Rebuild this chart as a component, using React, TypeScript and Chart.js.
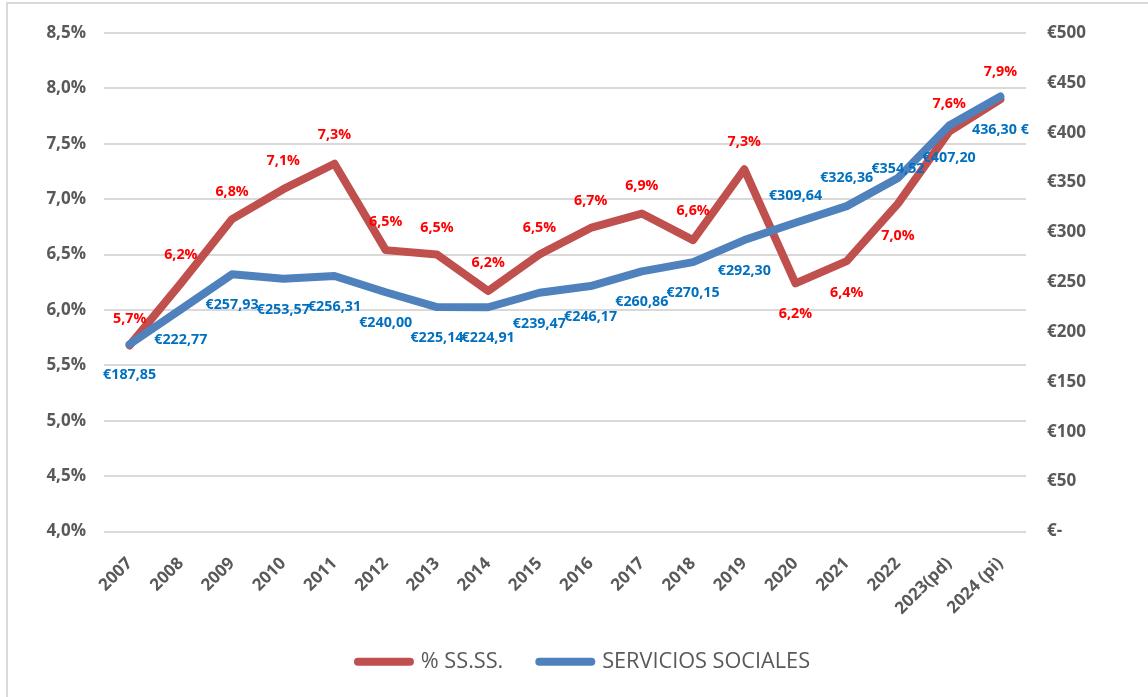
import React, { useEffect, useRef } from "react";
import { Chart, registerables } from "chart.js";

Chart.register(...registerables);

const categories = [
  "2007", "2008", "2009", "2010", "2011", "2012", "2013", "2014", "2015",
  "2016", "2017", "2018", "2019", "2020", "2021", "2022", "2023(pd)", "2024 (pi)",
];

const pctValues = [
  5.68, 6.24, 6.82, 7.09, 7.32, 6.54, 6.5, 6.17, 6.5,
  6.74, 6.87, 6.63, 7.27, 6.24, 6.44, 6.96, 7.61, 7.9,
];

const servValues = [
  187.85, 222.77, 257.93, 253.57, 256.31, 240.0, 225.14, 224.91, 239.47,
  246.17, 260.86, 270.15, 292.3, 309.64, 326.36, 354.52, 407.2, 436.3,
];

const pctLabels = pctValues.map((v) => v.toFixed(1).replace(".", ",") + "%");
const servLabels = servValues.map((v, i) =>
  i === servValues.length - 1
    ? v.toFixed(2).replace(".", ",") + " €"
    : "€" + v.toFixed(2).replace(".", ",")
);

// label vertical offsets (px) relative to the point
const pctLabelDy = [-26, -28, -27, -28, -29, -28, -27, -28, -27, -27, -28, -29, -27, 31, 32, 32, -28, -28];
const servLabelDy = [31, 31, 31, 31, 31, 31, 31, 31, 31, 31, 31, 31, 31, -27, -28, -9, 32, 33];

const FONT = "'Open Sans', 'DejaVu Sans', sans-serif";
const GRAY = "#595959";
const LEGEND_PAD = 36;

const labelPlugin = {
  id: "pointLabels",
  afterDatasetsDraw(chart: any) {
    const ctx = chart.ctx;
    const sets = [
      { idx: 0, labels: pctLabels, dy: pctLabelDy, color: "#FF0000" },
      { idx: 1, labels: servLabels, dy: servLabelDy, color: "#0070C0" },
    ];
    ctx.save();
    ctx.font = `bold 14.3px ${FONT}`;
    ctx.textAlign = "center";
    ctx.textBaseline = "middle";
    for (const s of sets) {
      const meta = chart.getDatasetMeta(s.idx);
      ctx.fillStyle = s.color;
      meta.data.forEach((pt: any, i: number) => {
        ctx.fillText(s.labels[i], pt.x, pt.y + s.dy[i]);
      });
    }
    ctx.restore();
  },
};

export default function App() {
  const ref = useRef<HTMLCanvasElement | null>(null);
  useEffect(() => {
    if (!ref.current) return;
    const chart = new Chart(ref.current, {
      type: "line",
      data: {
        labels: categories,
        datasets: [
          {
            label: "% SS.SS.",
            data: pctValues,
            yAxisID: "y",
            borderColor: "#C0504D",
            backgroundColor: "#C0504D",
            borderWidth: 8,
            borderCapStyle: "round",
            borderJoinStyle: "round",
            pointRadius: 0,
            tension: 0,
            order: 1,
          },
          {
            label: "SERVICIOS SOCIALES",
            data: servValues,
            yAxisID: "y1",
            borderColor: "#4F81BD",
            backgroundColor: "#4F81BD",
            borderWidth: 8,
            borderCapStyle: "round",
            borderJoinStyle: "round",
            pointRadius: 0,
            tension: 0,
            order: 0,
          },
        ],
      },
      options: {
        animation: false,
        responsive: false,
        maintainAspectRatio: false,
        layout: { padding: { top: 33, left: 20, right: 0, bottom: 37.4 } },
        plugins: {
          tooltip: { enabled: false },
          legend: {
            position: "bottom",
            labels: {
              usePointStyle: true,
              pointStyle: "line",
              pointStyleWidth: 52,
              boxHeight: 8,
              padding: LEGEND_PAD,
              color: GRAY,
              font: { family: FONT, size: 21.7, weight: "normal" },
              sort: (a: any, b: any) => a.datasetIndex - b.datasetIndex,
              generateLabels: (chart: any) => {
                const items = Chart.defaults.plugins.legend.labels.generateLabels(chart);
                items.forEach((it: any) => {
                  it.lineCap = "round";
                  it.lineWidth = 8;
                });
                return items;
              },
            },
          },
        },
        scales: {
          x: {
            offset: true,
            grid: { display: false },
            border: { display: false },
            ticks: {
              color: GRAY,
              font: { family: FONT, size: 17, weight: "bold" },
              minRotation: 45,
              maxRotation: 45,
              padding: 14,
              autoSkip: false,
            },
            afterFit: (s: any) => {
              s.height = 119.4 - LEGEND_PAD;
            },
          },
          y: {
            position: "left",
            min: 4,
            max: 8.5,
            grid: { color: "#D9D9D9", lineWidth: 2, drawTicks: false },
            border: { display: false },
            ticks: {
              stepSize: 0.5,
              color: GRAY,
              padding: 18,
              font: { family: FONT, size: 17, weight: "bold" },
              callback: (v: any) => Number(v).toFixed(1).replace(".", ",") + "%",
            },
            afterFit: (s: any) => {
              s.width = 84;
            },
          },
          y1: {
            position: "right",
            min: 0,
            max: 500,
            grid: { drawOnChartArea: false, drawTicks: false },
            border: { display: false },
            ticks: {
              stepSize: 50,
              color: GRAY,
              padding: 21,
              font: { family: FONT, size: 17, weight: "bold" },
              callback: (v: any) => (Number(v) === 0 ? "€-" : "€" + v),
            },
            afterFit: (s: any) => {
              s.width = 122;
            },
          },
        },
      },
      plugins: [labelPlugin],
    });
    return () => chart.destroy();
  }, []);

  return (
    <div
      style={{
        position: "absolute",
        left: 0,
        top: 0,
        width: 1148,
        height: 697,
        overflow: "hidden",
        background: "#fff",
      }}
    >
      <div
        style={{
          position: "absolute",
          left: 6,
          top: 2,
          width: 1200,
          height: 800,
          borderLeft: "2px solid #D9D9D9",
          borderTop: "2px solid #D9D9D9",
        }}
      />
      <canvas
        ref={ref}
        width={1148}
        height={720}
        style={{ position: "absolute", left: 0, top: 0, width: 1148, height: 720 }}
      />
    </div>
  );
}
